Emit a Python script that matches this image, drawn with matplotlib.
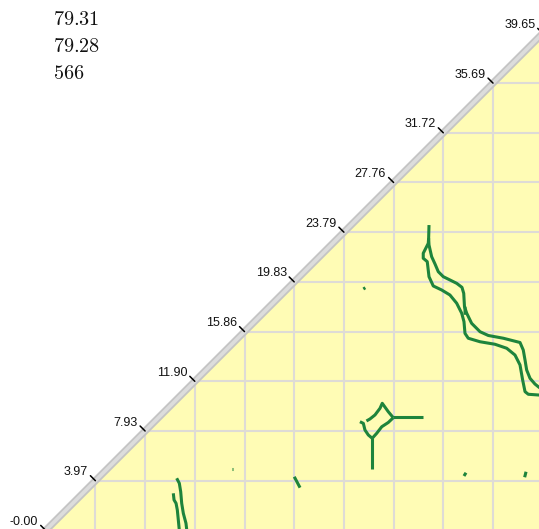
import matplotlib
matplotlib.use("Agg")
import matplotlib.pyplot as plt

plt.rcParams['mathtext.fontset'] = 'cm'

# ---- data ----
tick_values = [0.0, 3.965, 7.93, 11.895, 15.86, 19.825, 23.79, 27.755, 31.72, 35.685, 39.65]
tick_labels = ["-0.00", "3.97", "7.93", "11.90", "15.86", "19.83", "23.79", "27.76", "31.72", "35.69", "39.65"]
header_lines = ["79.31", "79.28", "566"]

outer_x = [30.58, 30.55, 30.52, 30.12, 30.12, 30.44, 30.58, 30.92, 31.59, 32.25, 32.79, 33.19, 33.37, 33.45,
           33.71, 34.65, 35.84, 36.78, 37.44, 37.84, 38.05, 38.24, 38.50, 39.35, 39.83]
outer_y = [24.36, 23.30, 22.90, 22.11, 21.71, 21.44, 20.24, 19.50, 19.18, 18.78, 18.12, 17.32, 16.65, 15.72,
           15.33, 15.05, 14.85, 14.53, 13.99, 13.20, 12.00, 11.07, 10.86, 10.80, 10.80]
inner_x = [30.55, 30.58, 30.79, 31.06, 31.32, 31.72, 32.25, 32.79, 33.21, 33.35, 33.41, 33.59, 33.98, 34.65,
           35.31, 36.51, 37.84, 38.10, 38.24, 38.37, 38.64, 39.03, 39.35, 39.83]
inner_y = [23.30, 22.77, 21.84, 21.25, 20.64, 20.24, 19.98, 19.71, 19.39, 18.91, 17.85, 17.32, 16.52, 15.85,
           15.55, 15.33, 14.99, 14.39, 13.59, 12.80, 12.13, 11.68, 11.42, 11.12]
stub_x = [33.45, 33.46]
stub_y = [17.85, 17.20]

star_top_x = [27.73, 27.33, 26.85, 26.67, 26.27, 25.87, 25.59]
star_top_y = [8.99, 9.47, 10.14, 9.74, 9.21, 8.89, 8.73]
star_bottom_x = [25.07, 25.34, 25.47, 25.74, 26.05, 26.41, 26.81, 27.33, 27.73]
star_bottom_y = [8.67, 8.54, 8.01, 7.61, 7.35, 7.75, 8.27, 8.61, 8.99]
star_right_x = [27.73, 30.12]
star_right_y = [9.02, 9.02]
star_down_x = [26.05, 26.05]
star_down_y = [7.35, 4.90]

left_a_x = [10.45, 10.66, 10.77, 10.85, 10.98, 11.19, 11.27]
left_a_y = [4.16, 3.76, 3.09, 2.16, 1.36, 0.57, -0.10]
left_b_x = [10.18, 10.24, 10.40, 10.50, 10.58, 10.67]
left_b_y = [2.96, 2.43, 2.16, 1.63, 0.83, -0.10]

small_segments = [
    ([19.83, 20.29], [4.28, 3.41]),
    ([33.53, 33.37], [4.60, 4.34]),
    ([38.32, 38.21], [4.68, 4.24]),
    ([14.90, 14.94], [4.92, 4.92]),
    ([25.34, 25.50], [19.26, 19.36]),
]

# ---- figure ----
W, H, DPI = 539, 529, 100
fig = plt.figure(figsize=(W / DPI, H / DPI), dpi=DPI)
ax = fig.add_axes([45.7 / W, (H - 530.4) / H, 497 / W, 497 / H])
vmax = tick_values[-1]
ax.set_xlim(0, vmax)
ax.set_ylim(0, vmax)
ax.axis('off')

# yellow lower triangle
ax.fill([0, vmax + 1, vmax + 1], [0, 0, vmax + 1], color='#fffcb5', lw=0, zorder=1)

# grid
for v in tick_values[1:]:
    ax.plot([v, v], [0, v], color='#dedbd6', lw=1.5, zorder=2, solid_capstyle='butt')
    ax.plot([v, vmax + 1], [v, v], color='#dedbd6', lw=1.5, zorder=2, solid_capstyle='butt')

green = '#1e843c'
kw = dict(color=green, lw=2.2, zorder=3, solid_capstyle='butt', solid_joinstyle='round')
for xs, ys in [(outer_x, outer_y), (inner_x, inner_y), (stub_x, stub_y),
               (star_top_x, star_top_y), (star_bottom_x, star_bottom_y),
               (star_right_x, star_right_y), (star_down_x, star_down_y),
               (left_a_x, left_a_y), (left_b_x, left_b_y)] + small_segments:
    ax.plot(xs, ys, **kw)

# diagonal band
ax.plot([-1, vmax + 1], [-1, vmax + 1], color='#c4c4c4', lw=5.2, zorder=4, clip_on=False)
ax.plot([-1, vmax + 1], [-1, vmax + 1], color='#dcdcdc', lw=2.6, zorder=5, clip_on=False)

# ticks and labels on the diagonal
for v, lab in zip(tick_values, tick_labels):
    ax.annotate('', xy=(v, v), xytext=(-5, 5), textcoords='offset pixels',
                arrowprops=dict(arrowstyle='-', color='black', lw=1.1, shrinkA=0, shrinkB=0),
                annotation_clip=False, zorder=6)
    ax.annotate(lab, xy=(v, v), xytext=(-7.5, 8.5), textcoords='offset pixels',
                ha='right', va='center', fontsize=9, family='Liberation Sans',
                color='#111111', annotation_clip=False, zorder=6)

# header text
for i, t in enumerate(header_lines):
    fig.text(53 / W, 1 - (19.7 + 27 * i) / H, '$' + t + '$', fontsize=14.5,
             ha='left', va='center', color='#111111')

fig.savefig('out.png', dpi=DPI)
